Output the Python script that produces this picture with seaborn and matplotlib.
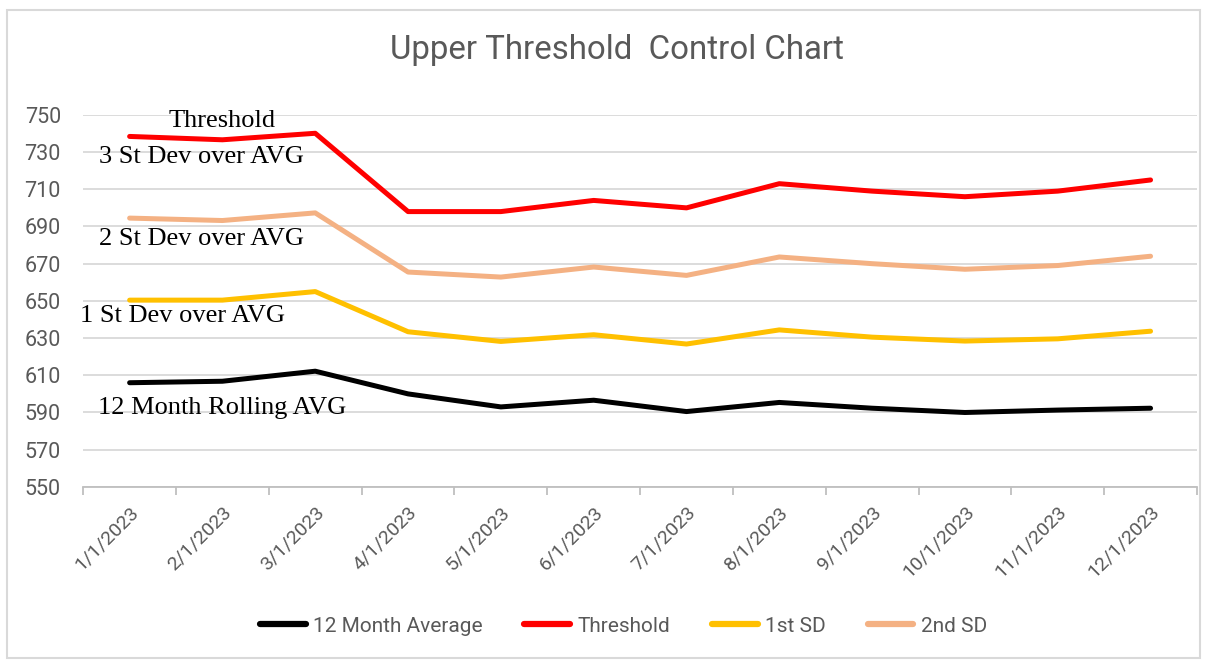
import pandas as pd
import matplotlib.pyplot as plt
import matplotlib.transforms as mtransforms
from matplotlib.patches import Rectangle
import seaborn as sns

# Chart data
months = ["1/1/2023", "2/1/2023", "3/1/2023", "4/1/2023", "5/1/2023", "6/1/2023",
          "7/1/2023", "8/1/2023", "9/1/2023", "10/1/2023", "11/1/2023", "12/1/2023"]
avg_12m = [606, 606.8, 612.2, 600, 593, 596.6, 590.5, 595.4, 592.3, 590, 591.3, 592.3]
threshold = [738.4, 736.6, 740.1, 698, 698, 704, 700, 713, 709, 706, 709, 715]
sd1 = [650.4, 650.4, 655, 633.4, 628.2, 631.8, 626.8, 634.4, 630.5, 628.4, 629.6, 633.7]
sd2 = [694.5, 693.2, 697.3, 665.5, 662.8, 668.2, 663.7, 673.6, 670, 667, 669, 674]
series_names = ["12 Month Average", "Threshold", "1st SD", "2nd SD"]
y_ticks = [550, 570, 590, 610, 630, 650, 670, 690, 710, 730, 750]

sns.set_theme(style="white")
plt.rcParams['font.family'] = ['Roboto', 'DejaVu Sans']

df = pd.DataFrame({"Month": months, series_names[0]: avg_12m, series_names[1]: threshold,
                   series_names[2]: sd1, series_names[3]: sd2})
df_long = df.melt(id_vars="Month", var_name="Series", value_name="Value")

palette = {"12 Month Average": "#000000", "Threshold": "#ff0000",
           "1st SD": "#ffc000", "2nd SD": "#f4b183"}
gray = "#595959"

fig = plt.figure(figsize=(12.06, 6.62), dpi=100)
ax = fig.add_axes([0.069, 0.2645, 0.9235, 0.562])

sns.lineplot(data=df_long, x="Month", y="Value", hue="Series", palette=palette,
             hue_order=series_names, sort=False, linewidth=3.6, ax=ax,
             solid_capstyle="round", solid_joinstyle="round")

ax.set_xlim(-0.5, len(months) - 0.5)
ax.set_ylim(550, 750)
ax.set_yticks(y_ticks)
ax.yaxis.grid(True, color="#d9d9d9", linewidth=1.3)
ax.set_axisbelow(True)
for s in ["left", "right", "top"]:
    ax.spines[s].set_visible(False)
ax.spines["bottom"].set_color("#bfbfbf")
ax.spines["bottom"].set_linewidth(1.3)
ax.set_xlabel("")
ax.set_ylabel("")

# tick marks sit between categories, like the spreadsheet axis
ax.set_xticks([i - 0.5 for i in range(len(months) + 1)], minor=True)
ax.tick_params(axis="x", which="minor", length=6, width=1.3, color="#bfbfbf", bottom=True)
ax.tick_params(axis="x", which="major", length=0, pad=16, labelsize=14, labelcolor=gray)
ax.tick_params(axis="y", length=0, pad=16, labelsize=15.5, labelcolor=gray)
ax.set_xticks(range(len(months)))
ax.set_xticklabels(months, rotation=45, ha="right", va="center", rotation_mode="anchor")
offset = mtransforms.ScaledTranslation(6 / 100, 0, fig.dpi_scale_trans)
for lbl in ax.get_xticklabels():
    lbl.set_transform(lbl.get_transform() + offset)

# serif annotations beside the lines
serif = dict(family="Liberation Serif", fontsize=19, color="black", ha="center", va="center")
ax.text(1.0, 746.8, "Threshold", **serif)
ax.text(0.77, 727.4, "3 St Dev over AVG", **serif)
ax.text(0.77, 683.3, "2 St Dev over AVG", **serif)
ax.text(0.57, 642.0, "1 St Dev over AVG", **serif)
ax.text(1.0, 592.5, "12 Month Rolling AVG", **serif)

fig.text(0.512, 0.924, "Upper Threshold  Control Chart", ha="center", va="center",
         fontsize=23.8, color=gray)

ax.get_legend().remove()
handles = [plt.Line2D([], [], color=palette[n], linewidth=4.5, solid_capstyle="round")
           for n in series_names]
fig.legend(handles, series_names, loc="center", bbox_to_anchor=(0.517, 0.054), ncol=4,
           frameon=False, fontsize=15, labelcolor=gray, handlelength=2.2,
           handletextpad=0.35, columnspacing=2.0)

# light outer chart border
fig.patches.append(Rectangle((7 / 1206, 4 / 662), 1193 / 1206, 648 / 662,
                             transform=fig.transFigure, fill=False,
                             edgecolor="#d9d9d9", linewidth=1.5))

plt.savefig("out.png", dpi=100)
